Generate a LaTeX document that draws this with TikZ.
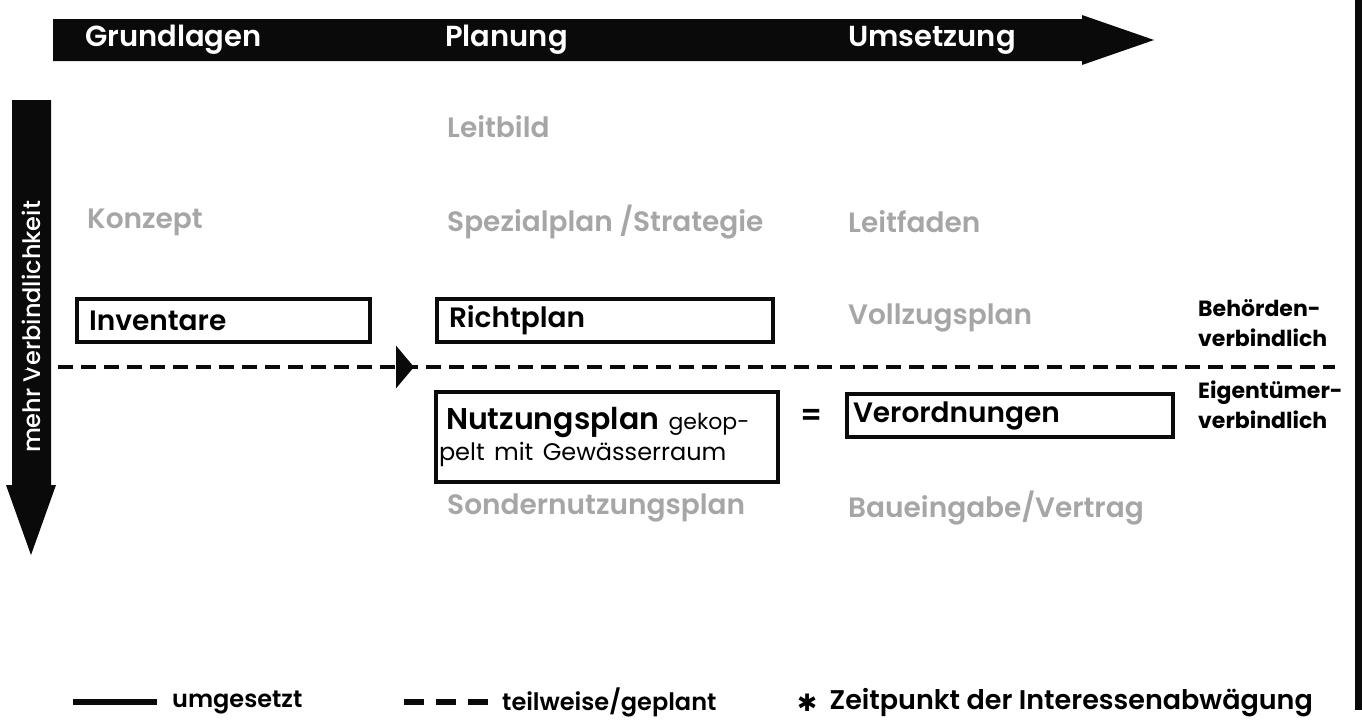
\documentclass[tikz,border=0pt]{standalone}
\usepackage{fontspec}
\setmainfont{Poppins}[BoldFont={Poppins SemiBold}]
\newfontfamily\medfont{Poppins Medium}
\newfontfamily\heavyfont{Poppins Bold}
\newfontfamily\symbolfont{DejaVu Sans}
\usetikzlibrary{arrows.meta,positioning,calc}

\definecolor{ink}{RGB}{10,10,10}
\definecolor{faded}{RGB}{166,166,166}

\begin{document}
\begin{tikzpicture}[
  x=1pt, y=-1pt,
  every node/.style={inner sep=0pt},
  phase/.style={anchor=west, text=white, font=\fontsize{29}{29}\selectfont\bfseries},
  faded/.style={anchor=west, text=faded, font=\fontsize{28}{28}\selectfont\bfseries},
  box/.style={draw=ink, line width=4pt, anchor=north west, align=left, inner xsep=12pt,
    font=\fontsize{28}{28}\selectfont\bfseries},
  level/.style={anchor=west, align=left, font=\heavyfont\fontsize{22}{30}\selectfont},
  legend/.style={anchor=west, font=\fontsize{24}{24}\selectfont\bfseries},
  dashline/.style={line width=4.5pt, dash pattern=on 15pt off 8pt}
]
\useasboundingbox (0,0) rectangle (1362,720);

% phase arrow on top, binding arrow on the left, edge bar on the right
\fill[ink] (53,19) -- (1082,19) -- (1082,15) -- (1154,40) -- (1082,65) -- (1082,61) -- (53,61) -- cycle;
\fill[ink] (12,100) -- (51,100) -- (51,485) -- (56,485) -- (31,555) -- (6,485) -- (12,485) -- cycle;
\fill[ink] (1355,0) rectangle (1362,710);

\node[phase] (grund) at (85,40) {Grundlagen};
\node[phase] (plan) at (445,40) {Planung};
\node[phase] (umset) at (848,40) {Umsetzung};
\node[rotate=90, text=white, font=\medfont\fontsize{24}{24}\selectfont] (mehr) at (31,327) {mehr Verbindlichkeit};

% instruments not (yet) in force
\foreach \name/\x/\y/\txt in {leitbild/447/127/Leitbild, konzept/87/222/Konzept,
    spezial/447/222/{Spezialplan /Strategie}, leitfaden/848/222/Leitfaden,
    vollzug/848/318/Vollzugsplan, sonder/447/508/Sondernutzungsplan,
    baueing/848/508/{Baueingabe/Vertrag}}
  \node[faded] (\name) at (\x,\y) {\txt};

% instruments in force
\node[box, minimum width=293pt, minimum height=43pt, text width=269pt] (invent) at (75,297) {Inventare};
\node[box, minimum width=336pt, minimum height=43pt, text width=312pt] (richt) at (435,297) {Richtplan};
\node[box, minimum width=342pt, minimum height=90pt, text width=336pt, inner xsep=3pt] (nutz) at (434,390)
  {\hspace{7pt}{\fontsize{30}{30}\selectfont Nutzungsplan} {\mdseries\fontsize{22}{22}\selectfont gekop-}\\[3pt]%
   {\mdseries\fontsize{24}{24}\selectfont pelt mit Gewässerraum}};
\node[box, minimum width=326pt, minimum height=43pt, text width=314pt, inner xsep=6pt] (verord) at (845,392) {Verordnungen};
\node[font=\fontsize{30}{30}\selectfont\bfseries] (eq) at (812,417) {=};

% line between the two levels of binding force
\coordinate (dashL) at (12,367);
\coordinate (dashR) at (1335,367);
\coordinate (cutbase) at (396,367);
\coordinate (cut) at (414,367);
\draw[ink, dashline] (dashL) -- (dashR);
\draw[ink, line width=4pt, -{Triangle[length=18pt, width=42pt]}] (cutbase) -- (cut);

\node[level] (behoerd) at (1198,323) {Behörden-\\verbindlich};
\node[level] (eigent) at (1198,405) {Eigentümer-\\verbindlich};

% legend
\coordinate (solidA) at (73,702);
\coordinate (solidB) at (157,702);
\coordinate (dashA) at (404,702);
\coordinate (dashB) at (488,702);
\draw[ink, line width=6pt] (solidA) -- (solidB);
\node[legend, right=15pt of solidB] (umges) {umgesetzt};
\draw[ink, line width=6pt, dash pattern=on 20pt off 12pt] (dashA) -- (dashB);
\node[legend, right=14pt of dashB] (teilw) {teilweise/geplant};
\node[anchor=west, font=\symbolfont\fontsize{24}{24}\selectfont] (star) at (797,703) {✱};
\node[legend, right=12pt of star, font=\fontsize{27}{27}\selectfont\bfseries] (zeitp) {Zeitpunkt der Interessenabwägung};
\end{tikzpicture}
\end{document}
